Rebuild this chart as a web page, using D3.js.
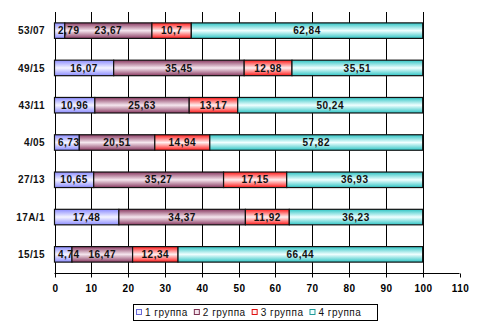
<!DOCTYPE html>
<html><head><meta charset="utf-8">
<script src="https://cdn.jsdelivr.net/npm/d3@7"></script>
<style>
html,body{margin:0;padding:0;background:#fff;}
svg{display:block;}
text{font-family:"Liberation Sans",Arial,sans-serif;}
</style></head>
<body>
<svg id="c" width="484" height="329"></svg>
<script>
const categories = ["53/07","49/15","43/11","4/05","27/13","17А/1","15/15"];
const seriesNames = ["1 группа","2 группа","3 группа","4 группа"];
const group1 = [2.79,16.07,10.96,6.73,10.65,17.48,4.74];
const group2 = [23.67,35.45,25.63,20.51,35.27,34.37,16.47];
const group3 = [10.7,12.98,13.17,14.94,17.15,11.92,12.34];
const group4 = [62.84,35.51,50.24,57.82,36.93,36.23,66.44];
const xTicks = [0,10,20,30,40,50,60,70,80,90,100,110];

const series = [group1,group2,group3,group4];
const edgeColors = ["#8c8cff","#8a3a62","#ff1a1a","#2ec4c4"];
const midColors  = ["#f4f4ff","#f5e6ee","#fff0f0","#f0ffff"];
const legStroke  = ["#6a6ad8","#7a3050","#e01010","#209a9a"];

const svg = d3.select("#c");
const defs = svg.append("defs");
edgeColors.forEach((c,i)=>{
  const g = defs.append("linearGradient").attr("id","g"+i)
    .attr("x1",0).attr("y1",0).attr("x2",0).attr("y2",1);
  g.append("stop").attr("offset","0%").attr("stop-color",c);
  g.append("stop").attr("offset","50%").attr("stop-color",midColors[i]);
  g.append("stop").attr("offset","100%").attr("stop-color",c);
});

const x = d3.scaleLinear().domain([0,110]).range([54.5,459.5]);
const y = d3.scaleBand().domain(categories).range([12,273]).paddingInner(0.584).paddingOuter(0.292);

// gridlines (0..100)
svg.append("g").selectAll("line").data(xTicks.filter(t=>t<=100)).join("line")
  .attr("x1",d=>Math.round(x(d))+0.5).attr("x2",d=>Math.round(x(d))+0.5)
  .attr("y1",12).attr("y2",273)
  .attr("stroke","#000").attr("stroke-width",1);

// axis
const axis = d3.axisBottom(x).tickValues(xTicks).tickSize(4).tickPadding(7).tickFormat(d=>d);
const ag = svg.append("g").attr("transform","translate(0,273.5)").call(axis);
ag.select(".domain").attr("d", `M${x(0)},0H${x(110)}`).attr("stroke","#000");
ag.selectAll(".tick line").attr("stroke","#000");
ag.selectAll(".tick").attr("transform",d=>`translate(${Math.round(x(d))+0.5},0)`);
ag.selectAll(".tick text").attr("font-size","10px").attr("font-weight","bold")
  .attr("font-family","'Liberation Sans',Arial,sans-serif").attr("fill","#000")
  .attr("letter-spacing","0.4px").attr("dy",null).attr("y",18.5);

// stacked bars
const rows = categories.map((c,i)=>{
  let acc = 0;
  return series.map((s,k)=>{ const v=s[i]; const r={cat:c,k,v,x0:acc,x1:acc+v}; acc+=v; return r; });
});
const flat = rows.flat();
const bars = svg.append("g");
bars.selectAll("rect").data(flat).join("rect")
  .attr("x",d=>x(d.x0)).attr("width",d=>x(d.x1)-x(d.x0))
  .attr("y",d=>y(d.cat)).attr("height",y.bandwidth())
  .attr("fill",d=>`url(#g${d.k})`)
  .attr("stroke","#111").attr("stroke-width",1.2);

const lbl = svg.append("g");
lbl.selectAll("text").data(flat).join("text")
  .attr("y",d=>y(d.cat)+y.bandwidth()/2+3.6)
  .attr("text-anchor","middle")
  .attr("font-size","10px").attr("font-weight","bold").attr("fill","#111")
  .attr("letter-spacing","0.5px")
  .text(d=>String(d.v).replace(".",","))
  .each(function(d){
    const w = this.getComputedTextLength();
    let cx = (x(d.x0)+x(d.x1))/2;
    if (cx - w/2 < x(0)+3.5) cx = x(0)+3.5+w/2;
    d3.select(this).attr("x",cx);
  });

// category labels
svg.append("g").selectAll("text").data(categories).join("text")
  .attr("x",45).attr("y",d=>y(d)+y.bandwidth()/2+3.6)
  .attr("text-anchor","end").attr("font-size","10px").attr("font-weight","bold")
  .attr("letter-spacing","0.4px").attr("fill","#111")
  .text(d=>d);

// legend
const leg = svg.append("g");
leg.append("rect").attr("x",133.5).attr("y",304.5).attr("width",244).attr("height",16)
  .attr("fill","#fff").attr("stroke","#000").attr("stroke-width",1);
let lx = 136;
seriesNames.forEach((n,i)=>{
  leg.append("rect").attr("x",lx+0.5).attr("y",309.5).attr("width",5).attr("height",5)
    .attr("fill",midColors[i]).attr("stroke",legStroke[i]).attr("stroke-width",1);
  const t = leg.append("text").attr("x",lx+9).attr("y",316).attr("font-size","10px")
    .attr("letter-spacing","0.5px").attr("fill","#111").text(n);
  lx += 9 + t.node().getComputedTextLength() + 6;
});
</script>
</body></html>
